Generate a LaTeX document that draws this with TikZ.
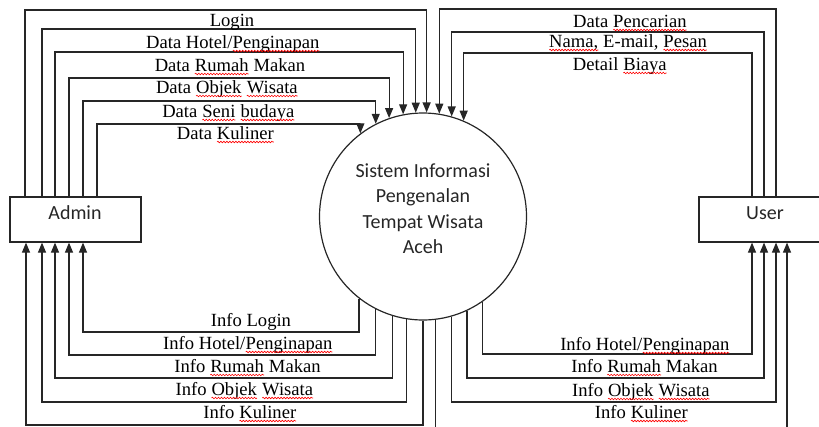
\documentclass[tikz,border=0pt]{standalone}
\usepackage{fontspec}
\setmainfont{Liberation Serif}
\newfontfamily\calfont{Carlito}
\usetikzlibrary{arrows.meta,decorations.pathmorphing}
\newcommand\sq[1]{\tikz[baseline=(sqw.base)]{\node[inner sep=0pt, outer sep=0pt, anchor=base] (sqw) at (0,0) {#1};
  \draw[red, line width=0.6pt, decorate, decoration={snake, amplitude=0.8pt, segment length=3pt}] ([yshift=-3pt]sqw.base west) -- ([yshift=-3pt]sqw.base east);}}
\tikzset{
  flow/.style={line width=1.2pt, draw=black!85, -{Triangle[length=10pt,width=8pt]}},
  ent/.style={draw=black!85, line width=1.2pt, rectangle, inner sep=0pt},
  lbl/.style={font=\fontsize{18.6}{20}\selectfont, anchor=base, inner sep=0pt},
  ctext/.style={font=\calfont\fontsize{20}{24}\selectfont, anchor=base, inner sep=0pt, text=black!85},
}
\begin{document}
\begin{tikzpicture}[x=1pt,y=-1pt]
\useasboundingbox (0,0) rectangle (819,426);
% entities and process
\node[ent, minimum width=131pt, minimum height=45pt] (admin) at (75.5,219.5) {};
\node[ent, minimum width=122pt, minimum height=45pt] (user) at (760,219.5) {};
\node[circle, draw=black!85, line width=1.2pt, minimum size=207pt, inner sep=0pt] (circ) at (423,216.5) {};
\node[ctext] (admintxt) at (75,219) {Admin};
\node[ctext] (usertxt) at (765,219) {User};
\node[ctext] (c1) at (423,177) {Sistem Informasi};
\node[ctext] (c2) at (423,202.5) {Pengenalan};
\node[ctext] (c3) at (423,228) {Tempat Wisata};
\node[ctext] (c4) at (423,253.5) {Aceh};
% Admin -> system
\draw[flow] (25,0 |- admin.north) -- (25,10) -| (circ.88.34);
\draw[flow] (42,0 |- admin.north) -- (42,29) -| (circ.94.43);
\draw[flow] (55,0 |- admin.north) -- (55,52) -| (circ.101.14);
\draw[flow] (69,0 |- admin.north) -- (69,78) -| (circ.109.77);
\draw[flow] (83,0 |- admin.north) -- (83,101) -| (circ.117.01);
\draw[flow] (97,0 |- admin.north) -- (97,124) -| (circ.127.5);
% system -> Admin
\draw[flow] (circ.232.5) |- (83,332) -- (83,0 |- admin.south);
\draw[flow] (circ.243.61) |- (69,355) -- (69,0 |- admin.south);
\draw[flow] (circ.253.15) |- (55,378) -- (55,0 |- admin.south);
\draw[flow] (circ.261.67) |- (42,402) -- (42,0 |- admin.south);
\draw[flow] (circ.270.55) |- (26,425) -- (26,0 |- admin.south);
% User -> system
\draw[flow] (776,0 |- user.north) -- (776,9) -| (circ.81.67);
\draw[flow] (764,0 |- user.north) -- (764,32) -| (circ.74.88);
\draw[flow] (752,0 |- user.north) -- (752,53) -| (circ.67.86);
% system -> User
\draw[flow] (circ.305.43) |- (752,354) -- (752,0 |- user.south);
\draw[flow] (circ.295.77) |- (764,378) -- (764,0 |- user.south);
\draw[flow] (circ.286.85) |- (776,402) -- (776,0 |- user.south);
\draw[flow] (circ.277.78) |- (787,430) -- (787,0 |- user.south);
% labels
\node[lbl] (l1) at (232,26) {Login};
\node[lbl] (l2) at (233,48) {Data Hotel/\sq{Penginapan}};
\node[lbl] (l3) at (230,71) {Data \sq{Rumah} Makan};
\node[lbl] (l4) at (227,93) {Data \sq{Objek} \sq{Wisata}};
\node[lbl] (l5) at (228.5,117) {Data \sq{Seni} \sq{budaya}};
\node[lbl] (l6) at (225.5,139) {Data \sq{Kuliner}};
\node[lbl] (u1) at (630,27) {Data \sq{Pencarian}};
\node[lbl] (u2) at (628,47) {\sq{Nama,} E-mail, \sq{Pesan}};
\node[lbl] (u3) at (620,70) {Detail \sq{Biaya}};
\node[lbl] (i1) at (251,326) {Info Login};
\node[lbl] (i2) at (248,349) {Info Hotel/\sq{Penginapan}};
\node[lbl] (i3) at (247.5,372) {Info \sq{Rumah} Makan};
\node[lbl] (i4) at (244.5,395) {Info \sq{Objek} \sq{Wisata}};
\node[lbl] (i5) at (250,418) {Info \sq{Kuliner}};
\node[lbl] (j2) at (645,350) {Info Hotel/\sq{Penginapan}};
\node[lbl] (j3) at (644.5,372) {Info \sq{Rumah} Makan};
\node[lbl] (j4) at (641,396) {Info \sq{Objek} \sq{Wisata}};
\node[lbl] (j5) at (641.5,418) {Info \sq{Kuliner}};
\end{tikzpicture}
\end{document}
